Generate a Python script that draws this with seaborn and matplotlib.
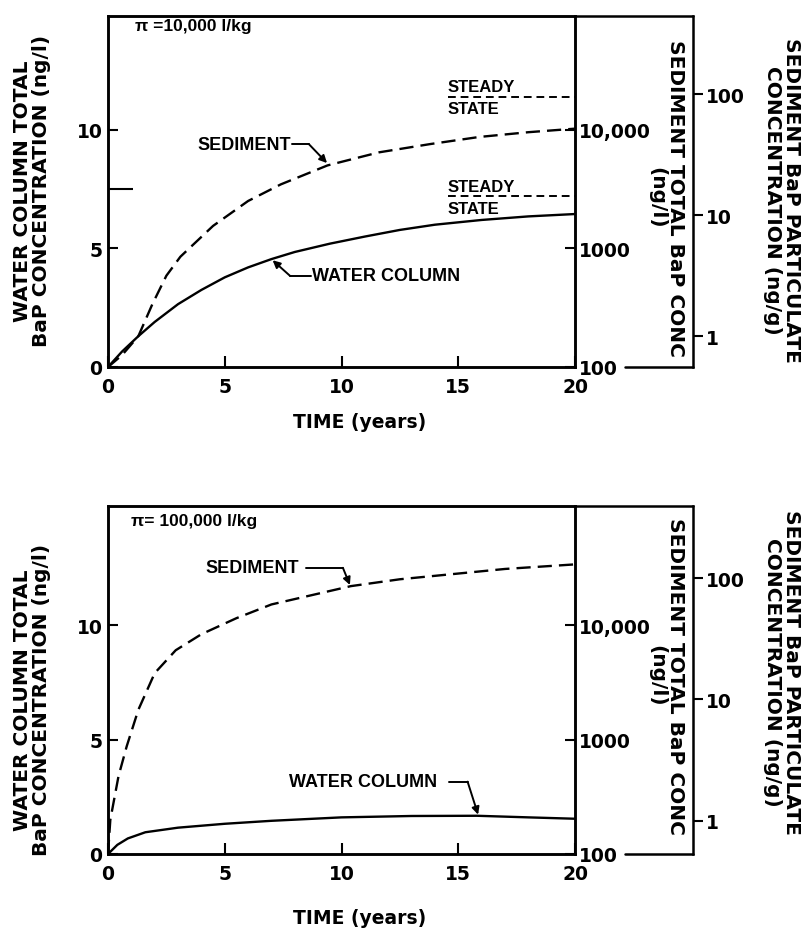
import matplotlib
matplotlib.use("Agg")
import matplotlib.pyplot as plt
import seaborn as sns
import pandas as pd
from matplotlib.ticker import NullLocator, FixedLocator

sns.set_style("ticks")
plt.rcParams["font.family"] = ["DejaVu Sans"]
plt.rcParams["font.weight"] = "bold"
plt.rcParams["axes.labelweight"] = "bold"
for key in ["text.color", "axes.labelcolor", "xtick.color", "ytick.color", "axes.edgecolor"]:
    plt.rcParams[key] = "black"

# ---------------- data ----------------
x_ticks = [0, 5, 10, 15, 20]
left_ticks = [0, 5, 10]
inner_ticks = [100, 1000, 10000]
inner_labels = ["100", "1000", "10,000"]
outer_ticks = [1, 10, 100]
outer_labels = ["1", "10", "100"]

# top panel (pi = 10,000 l/kg)
top_sed_time = [0, 0.6, 1.3, 1.9, 2.5, 3.1, 4.5, 6.0, 7.4, 9.4, 11.6, 13.8, 15.9, 18.0, 20.0]
top_sed = [0, 0.5, 1.3, 2.65, 3.85, 4.65, 5.95, 7.0, 7.7, 8.5, 9.05, 9.4, 9.7, 9.9, 10.05]
top_wat_time = [0, 0.6, 1.3, 2.0, 3.0, 4.0, 5.0, 6.0, 7.0, 8.0, 9.5, 11.0, 12.5, 14.0, 16.0, 18.0, 20.0]
top_wat = [0, 0.65, 1.3, 1.9, 2.65, 3.25, 3.78, 4.2, 4.55, 4.85, 5.2, 5.5, 5.78, 6.0, 6.2, 6.35, 6.45]
top_steady = [11.4, 7.2]

# bottom panel (pi = 100,000 l/kg)
bot_sed_time = [0, 0.1, 0.45, 0.8, 1.3, 2.0, 2.9, 4.0, 5.5, 7.0, 8.7, 10.4, 12.5, 14.5, 17.0, 20.0]
bot_sed = [0, 1.5, 3.4, 4.7, 6.3, 7.9, 8.9, 9.6, 10.3, 10.9, 11.3, 11.7, 12.0, 12.2, 12.45, 12.65]
bot_wat_time = [0, 0.4, 0.85, 1.6, 3.0, 5.0, 7.0, 10.0, 13.0, 15.8, 18.0, 20.0]
bot_wat = [0, 0.4, 0.68, 0.95, 1.15, 1.32, 1.45, 1.6, 1.66, 1.67, 1.6, 1.54]

ANN = ["Liberation Sans", "DejaVu Sans"]
W, H = 808, 929
DASH = (0, (6, 3))
OUTER = 1.2527


def fx(px):
    return px / W


def fy(py):
    return 1 - py / H


def panel(ax, ytop, sed_t, sed_v, wat_t, wat_v, one_units, outer_dec, minor=None):
    df_s = pd.DataFrame({"t": sed_t, "v": sed_v})
    df_w = pd.DataFrame({"t": wat_t, "v": wat_v})
    sns.lineplot(data=df_s, x="t", y="v", ax=ax, color="black", lw=1.7,
                 linestyle=DASH, estimator=None)
    sns.lineplot(data=df_w, x="t", y="v", ax=ax, color="black", lw=1.7,
                 estimator=None)
    ax.set_xlim(0, 20)
    ax.set_ylim(0, ytop)
    ax.set_xlabel("")
    ax.set_ylabel("")
    ax.set_xticks(x_ticks)
    ax.set_yticks(left_ticks)
    if minor is not None:
        ax.yaxis.set_minor_locator(FixedLocator(minor))
        ax.tick_params(axis="y", which="minor", direction="in", length=18, width=1.5)
    ax.tick_params(axis="x", direction="in", length=8, width=1.5, pad=7, labelsize=13.5)
    ax.tick_params(axis="y", direction="in", length=7, width=1.5, pad=4, labelsize=13.5)
    for s in ax.spines.values():
        s.set_linewidth(1.8)

    ax2 = ax.twinx()
    ax2.set_yscale("log")
    ax2.set_ylim(100, 10 ** (2 + ytop / 5.0))
    ax2.set_yticks(inner_ticks, labels=inner_labels)
    ax2.yaxis.set_minor_locator(NullLocator())
    ax2.tick_params(axis="y", direction="in", length=7, width=1.5, pad=3, labelsize=13.5)
    for s in ax2.spines.values():
        s.set_linewidth(1.8)

    ax3 = ax.twinx()
    ax3.set_yscale("log")
    ax3.set_ylim(10 ** (-one_units / outer_dec), 10 ** ((ytop - one_units) / outer_dec))
    ax3.spines["right"].set_position(("axes", OUTER))
    for s in ["left", "top", "bottom"]:
        ax3.spines[s].set_visible(False)
    ax3.spines["right"].set_linewidth(1.8)
    ax3.set_yticks(outer_ticks, labels=outer_labels)
    ax3.yaxis.set_minor_locator(NullLocator())
    ax3.tick_params(axis="y", direction="out", length=7, width=1.5, pad=2, labelsize=13.5)

    # outer box connectors
    ax.plot([1, OUTER], [1, 1], transform=ax.transAxes, clip_on=False, color="black", lw=1.8)
    ax.plot([1.107, OUTER], [0, 0], transform=ax.transAxes, clip_on=False, color="black", lw=1.8)
    return ax2, ax3


fig = plt.figure(figsize=(W / 100, H / 100), dpi=100)
ax_top = fig.add_axes([fx(108), fy(368), fx(467), (368 - 17) / H])
ax_bot = fig.add_axes([fx(108), fy(855), fx(467), (855 - 507) / H])

panel(ax_top, 14.8, top_sed_time, top_sed, top_wat_time, top_wat, 1.3, 5.1, minor=[7.5])
panel(ax_bot, 15.2, bot_sed_time, bot_sed, bot_wat_time, bot_wat, 1.45, 5.3)

AP = dict(arrowstyle="-|>", color="black", lw=1.4, mutation_scale=11, shrinkA=0, shrinkB=0)

# ---------- annotations, top ----------
ax_top.text(1.15, 14.4, "π =10,000 l/kg", family=ANN, fontsize=12.5, va="center")
ax_top.hlines(top_steady, 14.56, 20, colors="black", lw=1.4, linestyles=[(0, (4, 2.5))])
for yv in top_steady:
    ax_top.text(14.56, yv + 0.22, "STEADY", family=ANN, fontsize=12, va="baseline")
    ax_top.text(14.56, yv - 0.2, "STATE", family=ANN, fontsize=12, va="top")

ax_top.text(7.85, 9.4, "SEDIMENT", family=ANN, fontsize=13, ha="right", va="center")
ax_top.plot([7.88, 8.6], [9.4, 9.4], color="black", lw=1.4)
ax_top.annotate("", xy=(9.38, 8.6), xytext=(8.6, 9.4), arrowprops=AP)
ax_top.text(8.74, 3.84, "WATER COLUMN", family=ANN, fontsize=13, ha="left", va="center")
ax_top.plot([8.7, 7.8], [3.84, 3.84], color="black", lw=1.4)
ax_top.annotate("", xy=(7.05, 4.5), xytext=(7.8, 3.84), arrowprops=AP)

# ---------- annotations, bottom ----------
ax_bot.text(1.0, 14.56, "π= 100,000 l/kg", family=ANN, fontsize=12.5, va="center")
ax_bot.text(8.2, 12.5, "SEDIMENT", family=ANN, fontsize=13, ha="right", va="center")
ax_bot.plot([8.5, 10.06], [12.5, 12.5], color="black", lw=1.4)
ax_bot.annotate("", xy=(10.36, 11.75), xytext=(10.06, 12.5), arrowprops=AP)
ax_bot.text(14.1, 3.16, "WATER COLUMN", family=ANN, fontsize=13, ha="right", va="center")
ax_bot.plot([14.6, 15.4], [3.16, 3.16], color="black", lw=1.4)
ax_bot.annotate("", xy=(15.85, 1.72), xytext=(15.4, 3.16), arrowprops=AP)

# ---------- axis titles ----------
for yc_l, yc_r, yc_o, yc_t in [(191, 198, 200, 423), (700, 676, 672, 919)]:
    fig.text(fx(32), fy(yc_l), "WATER COLUMN TOTAL\nBaP CONCENTRATION (ng/l)",
             rotation=90, ha="center", va="center", fontsize=14.5, linespacing=0.95)
    fig.text(fx(666), fy(yc_r), "SEDIMENT TOTAL BaP CONC\n(ng/l)",
             rotation=270, ha="center", va="center", fontsize=14.5, linespacing=1.0)
    fig.text(fx(782), fy(yc_o), "SEDIMENT BaP PARTICULATE\nCONCENTRATION (ng/g)",
             rotation=270, ha="center", va="center", fontsize=14.5, linespacing=1.0)
    fig.text(fx(360), fy(yc_t), "TIME (years)", ha="center", va="center", fontsize=13.5)

fig.savefig("out.png", dpi=100)
